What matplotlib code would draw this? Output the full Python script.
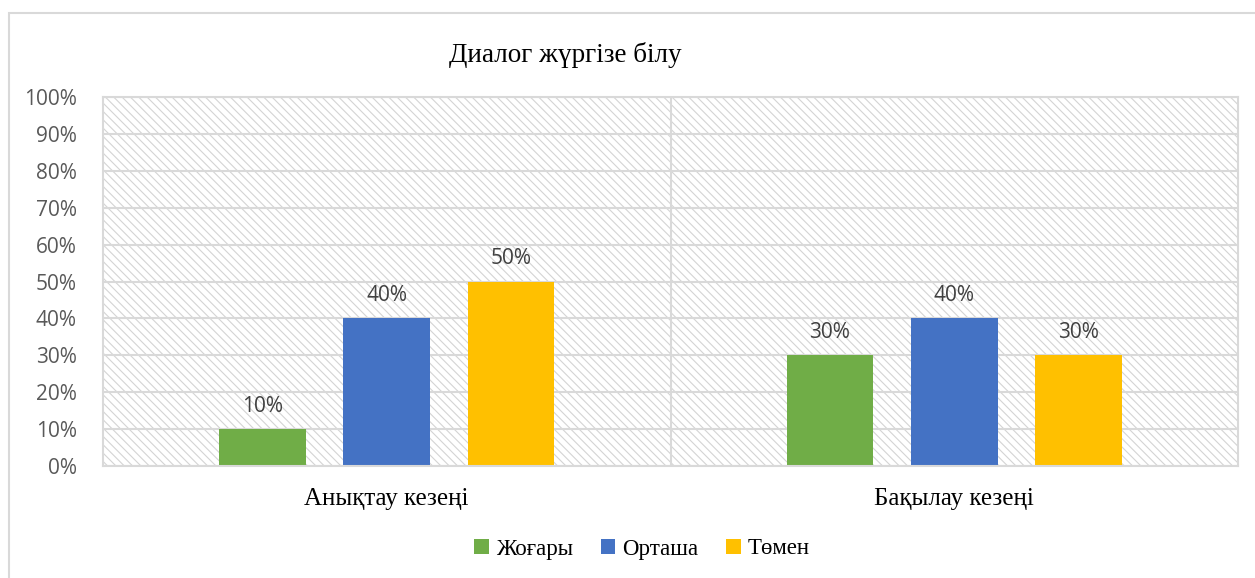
import matplotlib
matplotlib.use("Agg")
import matplotlib.pyplot as plt
from matplotlib.patches import Rectangle
import numpy as np

title = "Диалог жүргізе білу"
categories = ["Анықтау кезеңі", "Бақылау кезеңі"]
series_names = ["Жоғары", "Орташа", "Төмен"]
values_high = [0.10, 0.30]
values_mid = [0.40, 0.40]
values_low = [0.50, 0.30]
colors = ["#70AD47", "#4472C4", "#FFC000"]
yticks = [0, 0.1, 0.2, 0.3, 0.4, 0.5, 0.6, 0.7, 0.8, 0.9, 1.0]

plt.rcParams['hatch.linewidth'] = 0.8
plt.rcParams['hatch.color'] = '#d4d4d4'

W, H = 1255, 578
fig = plt.figure(figsize=(W/100, H/100), dpi=100)

# outer chart border
fig.patches.append(Rectangle((9/W, -0.1), 1.2, 1 - 13/H + 0.1, transform=fig.transFigure,
                             fill=False, edgecolor='#d9d9d9', linewidth=1.5, zorder=0))

ax = fig.add_axes([103/W, 1 - 466/H, (1238-103)/W, (466-97)/H])
ax.set_xlim(0, 2)
ax.set_ylim(0, 1)

# hatched background
ax.add_patch(Rectangle((0, 0), 1, 1, transform=ax.transAxes, facecolor='white',
                       hatch='\\\\\\\\', edgecolor='#d4d4d4', linewidth=0, zorder=0))

for y in yticks:
    ax.axhline(y, color='#d9d9d9', linewidth=1.5, zorder=1)
ax.axvline(1, color='#d9d9d9', linewidth=1.5, zorder=1)

for s in ax.spines.values():
    s.set_color('#d9d9d9')
    s.set_linewidth(1.5)

series = [values_high, values_mid, values_low]
bw = 0.153
off = 0.219
x = np.arange(len(categories)) + 0.5
for i, (vals, c) in enumerate(zip(series, colors)):
    xs = x + (i - 1) * off
    ax.bar(xs, vals, width=bw, color=c, zorder=2, label=series_names[i])
    for xi, v in zip(xs, vals):
        ax.annotate(f"{int(round(v*100))}%", (xi, v), xytext=(0, 9), textcoords='offset points',
                    ha='center', va='bottom', fontsize=15, color='#404040', family='Open Sans', zorder=3)

ax.set_yticks(yticks)
ax.set_yticklabels([f"{int(round(t*100))}%" for t in yticks], fontsize=15, color='#595959', family='Open Sans')
ax.set_xticks(x)
ax.set_xticklabels(categories, fontsize=18, color='#000000', family='Liberation Serif')
ax.tick_params(axis='both', length=0)
ax.tick_params(axis='y', pad=19)
ax.tick_params(axis='x', pad=16)

fig.text(565/W, 1 - 55/H, title, ha='center', va='center', fontsize=19.5, family='Liberation Serif', color='#000000')

leg = fig.legend(loc='center', bbox_to_anchor=(642/W, 1 - 549/H), ncol=3, frameon=False,
                 prop={'family': 'Liberation Serif', 'size': 16.5}, handlelength=0.65, handleheight=0.65,
                 handletextpad=0.3, columnspacing=1.2)

fig.savefig("out.png", dpi=100)
